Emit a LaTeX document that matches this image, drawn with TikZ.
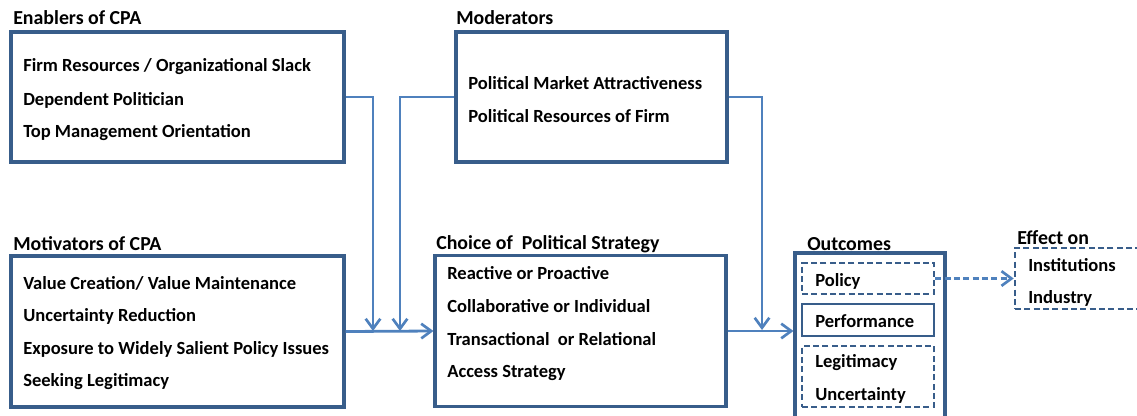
\documentclass[tikz,border=0pt]{standalone}
\usepackage{fontspec}
\setmainfont{Carlito}
\usetikzlibrary{arrows.meta}
\definecolor{boxc}{HTML}{385D8A}
\definecolor{arrc}{HTML}{4F81BD}
\tikzset{
  frame/.style={draw=boxc, line width=2.3pt, rectangle, inner sep=0pt},
  dframe/.style={draw=boxc, line width=1.9pt, rectangle, inner sep=0pt, dash pattern=on 4.5pt off 2.5pt},
  txt/.style={anchor=west, inner sep=0pt, font=\fontsize{13.9}{16}\selectfont\bfseries},
  ttl/.style={anchor=west, inner sep=0pt, font=\fontsize{14.9}{17}\selectfont\bfseries},
  arr/.style={draw=arrc, line width=2.1pt, -{Straight Barb[length=7.5pt,width=11pt,line width=2pt]}},
  darr/.style={arr, dash pattern=on 4.5pt off 2.5pt},
}
\begin{document}
\begin{tikzpicture}[x=0.75pt,y=-0.75pt]
\useasboundingbox (0,0) rectangle (1137,415);
\clip (0,0) rectangle (1137,415);
% boxes
\node[frame, minimum width=333*0.75pt, minimum height=130*0.75pt] (enab) at (177.5,97) {};
\node[frame, minimum width=271*0.75pt, minimum height=130*0.75pt] (mod) at (591.5,97) {};
\node[frame, minimum width=333*0.75pt, minimum height=151*0.75pt] (mot) at (177.5,331.5) {};
\node[frame, minimum width=291*0.75pt, minimum height=151*0.75pt] (cho) at (580.5,331) {};
\node[frame, minimum width=150*0.75pt, minimum height=170*0.75pt] (out) at (870,338) {};
\node[dframe, minimum width=132*0.75pt, minimum height=31*0.75pt] (pol) at (868,278.5) {};
\node[frame, line width=1.9pt, minimum width=132*0.75pt, minimum height=32*0.75pt] (perf) at (868,320) {};
\node[dframe, minimum width=132*0.75pt, minimum height=61*0.75pt] (leg) at (868,376.5) {};
\node[dframe, minimum width=140*0.75pt, minimum height=61*0.75pt] (eff) at (1085,278.5) {};
% titles
\node[ttl] (tenab) at (13,18) {Enablers of CPA};
\node[ttl] (tmod) at (456,18) {Moderators};
\node[ttl] (tmot) at (13,244) {Motivators of CPA};
\node[ttl] (tcho) at (436,244) {Choice of\ \ Political Strategy};
\node[ttl] (tout) at (807,244) {Outcomes};
\node[ttl] (teff) at (1017,238) {Effect on};
% items
\node[txt] (e1) at (23,67) {Firm Resources / Organizational Slack};
\node[txt] (e2) at (23,100) {Dependent Politician};
\node[txt] (e3) at (23,133) {Top Management Orientation};
\node[txt] (m1) at (468,83) {Political Market Attractiveness};
\node[txt] (m2) at (468,116) {Political Resources of Firm};
\node[txt] (v1) at (23,283) {Value Creation/ Value Maintenance};
\node[txt] (v2) at (23,316) {Uncertainty Reduction};
\node[txt] (v3) at (23,349) {Exposure to Widely Salient Policy Issues};
\node[txt] (v4) at (23,382) {Seeking Legitimacy};
\node[txt] (c1) at (447,273) {Reactive or Proactive};
\node[txt] (c2) at (447,306) {Collaborative or Individual};
\node[txt] (c3) at (447,339) {Transactional\ \ or Relational};
\node[txt] (c4) at (447,373) {Access Strategy};
\node[txt] (o1) at (815,281) {Policy};
\node[txt] (o2) at (815,321) {Performance};
\node[txt] (o3) at (815,363) {Legitimacy};
\node[txt] (o4) at (815,395) {Uncertainty};
\node[txt] (f1) at (1028,265) {Institutions};
\node[txt] (f2) at (1028,298) {Industry};
% connectors
\coordinate (j1) at (373,331);
\coordinate (j2) at (400,331);
\coordinate (j3) at (762,330);
\draw[arr] (enab.east) -| (j1);
\draw[arr] (mod.west) -| (j2);
\draw[arr] (mot.east) -- (cho.west);
\draw[arr] (mod.east) -| (j3);
\draw[arr] (cho.east) -- (cho.east -| out.west);
\draw[darr] (pol.east) -- (pol.east -| eff.west);
\end{tikzpicture}
\end{document}
